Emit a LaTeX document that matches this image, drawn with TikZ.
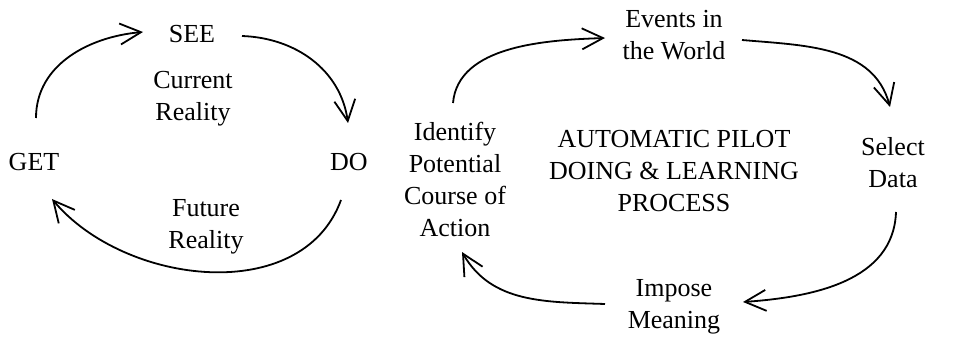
\documentclass[tikz,border=0pt]{standalone}
\usepackage{fontspec}
\setmainfont{Liberation Serif}
\usetikzlibrary{arrows.meta}
\begin{document}
\begin{tikzpicture}[x=1pt,y=1pt,
  font=\fontsize{26}{32}\selectfont,
  txt/.style={align=center,inner sep=0pt},
  cyc/.style={line width=1.8pt,-{Straight Barb[length=21pt,width=21pt]}}]
\useasboundingbox (0,0) rectangle (969,-339);
\node[txt] (see) at (192,-34) {SEE};
\node[txt] (cur) at (193,-99) {Current\\Reality};
\node[txt] (get) at (34,-162) {GET};
\node[txt] (do) at (349,-162) {DO};
\node[txt] (fut) at (206,-227) {Future\\Reality};
\node[txt] (events) at (674,-35) {Events in\\the World};
\node[txt] (ident) at (455,-179.5) {Identify\\Potential\\Course of\\Action};
\node[txt] (pilot) at (674,-171) {AUTOMATIC PILOT\\DOING \& LEARNING\\PROCESS};
\node[txt] (select) at (893,-162.5) {Select\\Data};
\node[txt] (impose) at (674,-307) {Impose\\Meaning};
\draw[cyc] ([shift={(2,44)}]get.center) to[out=90,in=185] ([shift={(-49,2)}]see.center);
\draw[cyc] ([shift={(50,-2)}]see.center) to[out=-2,in=98] ([shift={(-1,39)}]do.center);
\draw[cyc] ([shift={(-8,-38)}]do.center) to[out=-110,in=-50] ([shift={(18,-37)}]get.center);
\draw[cyc] ([shift={(-2,76.5)}]ident.center) to[out=85,in=182,looseness=0.9] ([shift={(-69,-3)}]events.center);
\draw[cyc] ([shift={(68,-5)}]events.center) to[out=-5,in=105] ([shift={(-3,55.5)}]select.center);
\draw[cyc] ([shift={(3,-49.5)}]select.center) to[out=-92,in=4] ([shift={(69,5)}]impose.center);
\draw[cyc] ([shift={(-69,3)}]impose.center) to[out=178,in=-60] ([shift={(7,-72.5)}]ident.center);
\end{tikzpicture}
\end{document}
